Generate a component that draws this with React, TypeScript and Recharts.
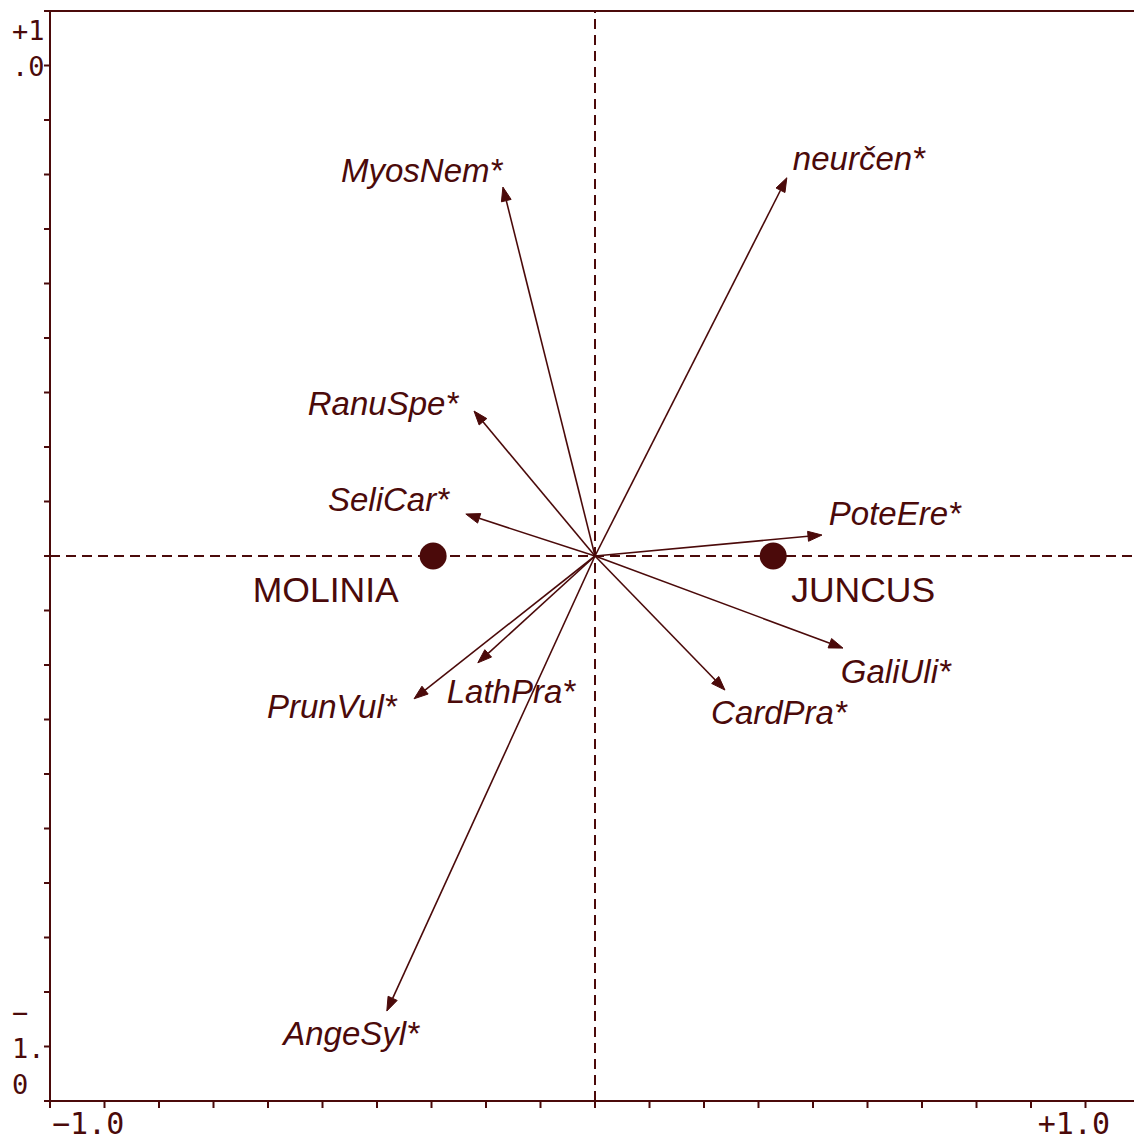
import React from 'react';
import { ScatterChart, Scatter, XAxis, YAxis, ReferenceLine } from 'recharts';

const COLOR = '#4b0a0a';

// Species arrows (biplot scores)
const speciesNames = ['MyosNem*', 'neurčen*', 'RanuSpe*', 'SeliCar*', 'PoteEre*', 'GaliUli*', 'CardPra*', 'LathPra*', 'PrunVul*', 'AngeSyl*'];
const speciesX = [-0.169, 0.352, -0.222, -0.237, 0.4165, 0.455, 0.2385, -0.215, -0.332, -0.382];
const speciesY = [0.677, 0.694, 0.266, 0.077, 0.0385, -0.169, -0.246, -0.196, -0.262, -0.835];
// Label anchor (start of baseline) in data units
const speciesLabelX = [-0.466, 0.363, -0.527, -0.49, 0.429, 0.451, 0.213, -0.272, -0.602, -0.572];
const speciesLabelY = [0.686, 0.708, 0.259, 0.083, 0.057, -0.233, -0.308, -0.27, -0.297, -0.897];

// Sites / centroids
const siteNames = ['MOLINIA', 'JUNCUS'];
const siteX = [-0.297, 0.327];
const siteY = [0, 0];
const siteLabelX = [-0.628, 0.36];
const siteLabelY = [-0.084, -0.084];

const axisTicks = [-1, -0.9, -0.8, -0.7, -0.6, -0.5, -0.4, -0.3, -0.2, -0.1, 0, 0.1, 0.2, 0.3, 0.4, 0.5, 0.6, 0.7, 0.8, 0.9, 1];

const siteData = siteNames.map((n, i) => ({ name: n, x: siteX[i], y: siteY[i] }));
const speciesLabelData = speciesNames.map((n, i) => ({ name: n, x: speciesLabelX[i], y: speciesLabelY[i], italic: true }));
const siteLabelData = siteNames.map((n, i) => ({ name: n, x: siteLabelX[i], y: siteLabelY[i], italic: false }));

const monoFont = '"DejaVu Sans Mono", monospace';
const sansFont = '"Liberation Sans", Arial, sans-serif';

const XTick = (props: any) => {
  const { x, y, payload } = props;
  const v = payload.value;
  if (v === -1) {
    return (
      <text x={x + 2} y={y + 24} fill={COLOR} fontFamily={monoFont} fontSize={30} textAnchor="start">−1.0</text>
    );
  }
  if (v === 1) {
    return (
      <text x={x - 30} y={y + 24} fill={COLOR} fontFamily={monoFont} fontSize={30} textAnchor="end">+1.0</text>
    );
  }
  return <g />;
};

const YTick = (props: any) => {
  const { x, y, payload } = props;
  const v = payload.value;
  const lx = x - 30;
  if (v === 1) {
    return (
      <g>
        <text x={lx} y={y + 29} fill={COLOR} fontFamily={monoFont} fontSize={27}>+1</text>
        <text x={lx} y={y + 65} fill={COLOR} fontFamily={monoFont} fontSize={27}>.0</text>
      </g>
    );
  }
  if (v === -1) {
    return (
      <g>
        <text x={lx} y={y - 79} fill={COLOR} fontFamily={monoFont} fontSize={27}>−</text>
        <text x={lx} y={y - 43} fill={COLOR} fontFamily={monoFont} fontSize={27}>1.</text>
        <text x={lx} y={y - 7} fill={COLOR} fontFamily={monoFont} fontSize={27}>0</text>
      </g>
    );
  }
  return <g />;
};

const ArrowShape = (props: any) => {
  const { x1, y1, x2, y2 } = props;
  const dx = x2 - x1;
  const dy = y2 - y1;
  const len = Math.sqrt(dx * dx + dy * dy) || 1;
  const ux = dx / len;
  const uy = dy / len;
  const headLen = 14;
  const headHalf = 5;
  const bx = x2 - ux * headLen;
  const by = y2 - uy * headLen;
  const px = -uy;
  const py = ux;
  const pts = `${x2},${y2} ${bx + px * headHalf},${by + py * headHalf} ${bx - px * headHalf},${by - py * headHalf}`;
  return (
    <g>
      <line x1={x1} y1={y1} x2={bx} y2={by} stroke={COLOR} strokeWidth={1.6} />
      <polygon points={pts} fill={COLOR} stroke={COLOR} strokeWidth={1} />
    </g>
  );
};

const SiteShape = (props: any) => (
  <circle cx={props.cx} cy={props.cy} r={13.5} fill={COLOR} />
);

const LabelShape = (props: any) => {
  const { cx, cy, payload } = props;
  const italic = payload.italic;
  return (
    <text
      x={cx}
      y={cy}
      fill={COLOR}
      fontFamily={sansFont}
      fontStyle={italic ? 'italic' : 'normal'}
      fontSize={italic ? 33 : 35.5}
      textAnchor="start"
    >
      {payload.name}
    </text>
  );
};

export default function App() {
  return (
    <div style={{ position: 'absolute', left: 0, top: 0, width: 1134, height: 1140, overflow: 'hidden', background: '#fff' }}>
      <ScatterChart width={1140} height={1140} margin={{ top: 11, right: 0, bottom: 0, left: 0 }}>
        <XAxis
          type="number"
          dataKey="x"
          domain={[-1, 1]}
          ticks={axisTicks}
          interval={0}
          height={39}
          tickSize={7}
          tick={<XTick />}
          axisLine={{ stroke: COLOR, strokeWidth: 2 }}
          tickLine={{ stroke: COLOR, strokeWidth: 2 }}
          allowDataOverflow
        />
        <YAxis
          type="number"
          dataKey="y"
          domain={[-1, 1]}
          ticks={axisTicks}
          interval={0}
          width={50}
          tickSize={6}
          tick={<YTick />}
          axisLine={{ stroke: COLOR, strokeWidth: 2 }}
          tickLine={{ stroke: COLOR, strokeWidth: 2 }}
          allowDataOverflow
        />
        <ReferenceLine y={1} stroke={COLOR} strokeWidth={2} ifOverflow="visible" />
        <ReferenceLine x={1} stroke={COLOR} strokeWidth={2} ifOverflow="visible" />
        <ReferenceLine y={0} stroke={COLOR} strokeWidth={2} strokeDasharray="10 6" ifOverflow="visible" />
        <ReferenceLine x={0} stroke={COLOR} strokeWidth={2} strokeDasharray="10 6" ifOverflow="visible" />
        {speciesNames.map((n, i) => (
          <ReferenceLine
            key={n}
            segment={[{ x: 0, y: 0 }, { x: speciesX[i], y: speciesY[i] }]}
            shape={ArrowShape}
            ifOverflow="visible"
          />
        ))}
        <Scatter data={siteData} shape={SiteShape} isAnimationActive={false} />
        <Scatter data={speciesLabelData} shape={LabelShape} isAnimationActive={false} />
        <Scatter data={siteLabelData} shape={LabelShape} isAnimationActive={false} />
      </ScatterChart>
    </div>
  );
}
